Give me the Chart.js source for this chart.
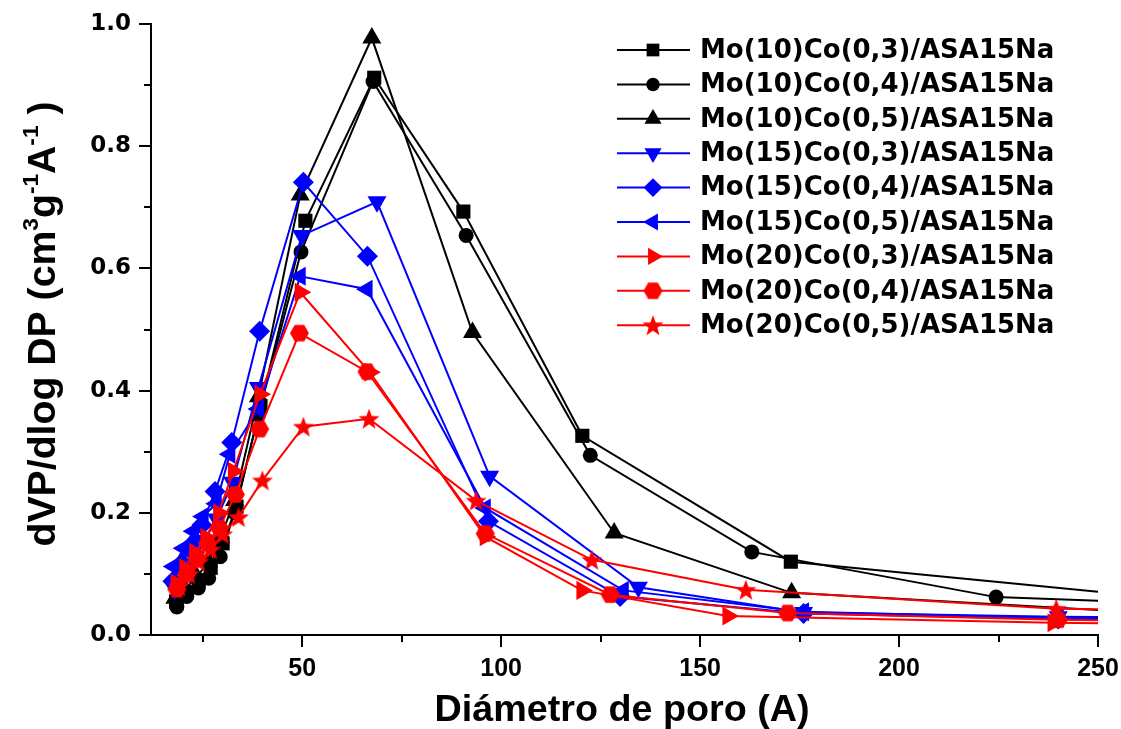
<!DOCTYPE html>
<html>
<head>
<meta charset="utf-8">
<script src="https://cdn.jsdelivr.net/npm/chart.js@4/dist/chart.umd.min.js"></script>
<style>
  html, body { margin: 0; padding: 0; background: #ffffff; }
  #wrap { width: 1121px; height: 729px; }
</style>
</head>
<body>
<div id="wrap"><canvas id="chart" width="1121" height="729"></canvas></div>
<script>
// Pore size distributions (BJH): pore diameter in A, dV/dlogD in cm3 g-1 A-1
const seriesNames = [
  'Mo(10)Co(0,3)/ASA15Na', 'Mo(10)Co(0,4)/ASA15Na', 'Mo(10)Co(0,5)/ASA15Na',
  'Mo(15)Co(0,3)/ASA15Na', 'Mo(15)Co(0,4)/ASA15Na', 'Mo(15)Co(0,5)/ASA15Na',
  'Mo(20)Co(0,3)/ASA15Na', 'Mo(20)Co(0,4)/ASA15Na', 'Mo(20)Co(0,5)/ASA15Na'
];

const dMo10Co03 = [18.3, 21, 24, 27, 30, 33.5, 39.5, 50.8, 68.1, 90.5, 120.4, 172.8, 330];
const vMo10Co03 = [0.055, 0.07, 0.09, 0.11, 0.15, 0.21, 0.375, 0.678, 0.912, 0.693, 0.326, 0.12, 0.02];

const dMo10Co04 = [18.5, 21, 23.9, 26.5, 29.4, 33, 39, 49.7, 67.8, 91.2, 122.4, 163, 224.4, 330];
const vMo10Co04 = [0.046, 0.063, 0.077, 0.093, 0.128, 0.2, 0.36, 0.627, 0.906, 0.654, 0.294, 0.136, 0.062, 0.037];

const dMo10Co05 = [18, 20.5, 23.5, 26.5, 29.5, 33, 39, 49.5, 67.5, 92.8, 128.4, 173, 330];
const vMo10Co05 = [0.06, 0.075, 0.095, 0.12, 0.16, 0.22, 0.39, 0.72, 0.977, 0.495, 0.167, 0.069, 0.012];

const dMo15Co03 = [18, 20.5, 23, 25.5, 28.5, 32.5, 39, 49.9, 68.8, 97.1, 134.5, 176, 240, 330];
const vMo15Co03 = [0.075, 0.1, 0.125, 0.155, 0.19, 0.25, 0.405, 0.654, 0.709, 0.26, 0.078, 0.037, 0.03, 0.024];

const dMo15Co04 = [17.5, 19.8, 22.3, 24.8, 28.1, 32.3, 39.3, 50.3, 66.4, 96.8, 129.9, 176, 240, 330];
const vMo15Co04 = [0.088, 0.118, 0.148, 0.18, 0.235, 0.315, 0.497, 0.741, 0.62, 0.186, 0.063, 0.035, 0.026, 0.02];

const dMo15Co05 = [17.7, 20.2, 22.7, 25.1, 28.4, 31.8, 39, 49.5, 66.3, 96, 130.7, 176, 240, 330];
const vMo15Co05 = [0.112, 0.142, 0.17, 0.194, 0.215, 0.296, 0.37, 0.587, 0.566, 0.208, 0.073, 0.038, 0.028, 0.022];

const dMo20Co03 = [18.3, 20.5, 23, 25.8, 29, 32.7, 39.4, 49.5, 67, 96, 120.3, 157, 238.7, 330];
const vMo20Co03 = [0.085, 0.11, 0.135, 0.16, 0.2, 0.268, 0.394, 0.561, 0.43, 0.161, 0.073, 0.031, 0.02, 0.015];

const dMo20Co04 = [18.5, 21, 23.5, 26.2, 29.2, 33.2, 39.3, 49.3, 66.3, 96, 127.4, 172, 240, 330];
const vMo20Co04 = [0.075, 0.1, 0.125, 0.15, 0.175, 0.23, 0.337, 0.494, 0.431, 0.166, 0.066, 0.036, 0.025, 0.019];

const dMo20Co05 = [19, 21.5, 24, 27, 30, 34, 40, 50.3, 66.8, 93.7, 122.8, 161.5, 239.5, 330];
const vMo20Co05 = [0.08, 0.1, 0.12, 0.14, 0.165, 0.193, 0.253, 0.341, 0.354, 0.22, 0.123, 0.074, 0.043, 0.035];

const xMajorTicks = [50, 100, 150, 200, 250];
const xMinorTicks = [25, 75, 125, 175, 225];
const yMajorTicks = [0, 0.2, 0.4, 0.6, 0.8, 1.0];
const yMinorTicks = [0.1, 0.3, 0.5, 0.7, 0.9];

const BLACK = '#000000', BLUE = '#0000ff', RED = '#ff0000';

// filled hexagon and five-point star marker images
function hexagonMarker(color, r) {
  const c = document.createElement('canvas');
  c.width = c.height = Math.ceil(r * 2 + 2);
  const g = c.getContext('2d');
  const cx = c.width / 2, cy = c.height / 2;
  g.beginPath();
  for (let k = 0; k < 6; k++) {
    const a = k * Math.PI / 3;
    g.lineTo(cx + r * Math.cos(a), cy + r * Math.sin(a));
  }
  g.closePath();
  g.fillStyle = color;
  g.fill();
  return c;
}
function starMarker(color, r) {
  const c = document.createElement('canvas');
  c.width = c.height = Math.ceil(r * 2 + 2);
  const g = c.getContext('2d');
  const cx = c.width / 2, cy = c.height / 2 + 1;
  g.beginPath();
  for (let k = 0; k < 10; k++) {
    const a = -Math.PI / 2 + k * Math.PI / 5;
    const rr = k % 2 === 0 ? r : r * 0.42;
    g.lineTo(cx + rr * Math.cos(a), cy + rr * Math.sin(a));
  }
  g.closePath();
  g.fillStyle = color;
  g.fill();
  return c;
}

const markerStyles = [
  { pointStyle: 'rect', radius: 10, rotation: 0 },
  { pointStyle: 'circle', radius: 7.5, rotation: 0 },
  { pointStyle: 'triangle', radius: 11, rotation: 0 },
  { pointStyle: 'triangle', radius: 11, rotation: 180 },
  { pointStyle: 'rectRot', radius: 10.5, rotation: 0 },
  { pointStyle: 'triangle', radius: 11, rotation: 270 },
  { pointStyle: 'triangle', radius: 11, rotation: 90 },
  { pointStyle: hexagonMarker(RED, 9.5), radius: 9.5, rotation: 0 },
  { pointStyle: starMarker(RED, 11), radius: 11, rotation: 0 }
];
const colors = [BLACK, BLACK, BLACK, BLUE, BLUE, BLUE, RED, RED, RED];
const diameters = [dMo10Co03, dMo10Co04, dMo10Co05, dMo15Co03, dMo15Co04, dMo15Co05, dMo20Co03, dMo20Co04, dMo20Co05];
const volumes = [vMo10Co03, vMo10Co04, vMo10Co05, vMo15Co03, vMo15Co04, vMo15Co05, vMo20Co03, vMo20Co04, vMo20Co05];

const datasets = seriesNames.map((name, i) => ({
  label: name,
  data: diameters[i].map((d, k) => ({ x: d, y: volumes[i][k] })),
  borderColor: colors[i],
  backgroundColor: colors[i],
  borderWidth: 2,
  pointStyle: markerStyles[i].pointStyle,
  pointRadius: markerStyles[i].radius,
  pointRotation: markerStyles[i].rotation,
  pointBorderWidth: 0,
  pointBackgroundColor: colors[i],
  pointBorderColor: colors[i],
  tension: 0,
  order: seriesNames.length - i
}));

// draw a text run squeezed or stretched to a given width
function fillFitted(ctx, text, x, y, width) {
  const w = ctx.measureText(text).width;
  ctx.save();
  ctx.translate(x, y);
  ctx.scale(width / w, 1);
  ctx.fillText(text, 0, 0);
  ctx.restore();
}

// tick marks, axis titles and the in-plot legend
const decorations = {
  id: 'decorations',
  afterDraw(chart) {
    const ctx = chart.ctx;
    const xs = chart.scales.x, ys = chart.scales.y;
    const area = chart.chartArea;
    ctx.save();
    ctx.strokeStyle = BLACK;
    ctx.lineWidth = 2;
    ctx.beginPath();
    xMajorTicks.forEach(v => { const p = Math.round(xs.getPixelForValue(v)); ctx.moveTo(p, area.bottom); ctx.lineTo(p, area.bottom + 12); });
    xMinorTicks.forEach(v => { const p = Math.round(xs.getPixelForValue(v)); ctx.moveTo(p, area.bottom); ctx.lineTo(p, area.bottom + 7); });
    yMajorTicks.forEach(v => { const p = Math.round(ys.getPixelForValue(v)); ctx.moveTo(area.left, p); ctx.lineTo(area.left - 12, p); });
    yMinorTicks.forEach(v => { const p = Math.round(ys.getPixelForValue(v)); ctx.moveTo(area.left, p); ctx.lineTo(area.left - 7, p); });
    ctx.stroke();

    // x axis title
    ctx.fillStyle = BLACK;
    ctx.font = 'bold 37px "Liberation Sans", Arial, sans-serif';
    ctx.textAlign = 'center';
    ctx.textBaseline = 'middle';
    fillFitted(ctx, 'Diámetro de poro (A)', 622, 711, 375);

    // y axis title with superscripts, rotated
    const pieces = [
      ['dVP/dlog DP (cm', false], ['3', true], ['g', false], ['-1', true],
      ['A', false], ['-1', true], [' )', false]
    ];
    const mainFont = 'bold 38px "Liberation Sans", Arial, sans-serif';
    const supFont = 'bold 22px "Liberation Sans", Arial, sans-serif';
    let total = 0;
    const widths = pieces.map(([t, sup]) => { ctx.font = sup ? supFont : mainFont; const w = ctx.measureText(t).width; total += w; return w; });
    const targetLen = 445;
    const sx = targetLen / total;
    ctx.translate(42, 324);
    ctx.rotate(-Math.PI / 2);
    ctx.scale(sx, 1);
    ctx.textAlign = 'left';
    ctx.textBaseline = 'alphabetic';
    let pos = -total / 2;
    pieces.forEach(([t, sup], k) => {
      ctx.font = sup ? supFont : mainFont;
      ctx.fillText(t, pos, sup ? -4 : 13);
      pos += widths[k];
    });
    ctx.restore();

    // legend
    ctx.save();
    const lx0 = 617, lx1 = 690, mx = 653, tx = 700, rowY0 = 50, rowStep = 34.4;
    ctx.font = 'bold 26px "DejaVu Sans", sans-serif';
    ctx.textAlign = 'left';
    ctx.textBaseline = 'middle';
    seriesNames.forEach((name, i) => {
      const y = rowY0 + i * rowStep;
      ctx.strokeStyle = colors[i];
      ctx.lineWidth = 2;
      ctx.beginPath();
      ctx.moveTo(lx0, y);
      ctx.lineTo(lx1, y);
      ctx.stroke();
      ctx.fillStyle = colors[i];
      ctx.strokeStyle = colors[i];
      ctx.lineWidth = 0;
      Chart.helpers.drawPoint(ctx, {
        pointStyle: markerStyles[i].pointStyle,
        radius: markerStyles[i].radius * 0.9,
        rotation: markerStyles[i].rotation,
        borderWidth: 0
      }, mx, y);
      ctx.fillStyle = BLACK;
      ctx.fillText(name, tx, y + 1);
    });
    ctx.restore();
  }
};

new Chart(document.getElementById('chart'), {
  type: 'line',
  data: { datasets },
  options: {
    responsive: false,
    animation: false,
    devicePixelRatio: 1,
    layout: { padding: { top: 24, right: 23, left: 0, bottom: 0 } },
    plugins: { legend: { display: false }, tooltip: { enabled: false } },
    scales: {
      x: {
        type: 'linear',
        min: 12,
        max: 250,
        afterBuildTicks(scale) { scale.ticks = xMajorTicks.map(v => ({ value: v })); },
        afterFit(scale) { scale.height = 94; scale.paddingLeft = 0; scale.paddingRight = 0; },
        grid: { display: false, drawTicks: false },
        border: { display: true, color: BLACK, width: 2 },
        ticks: {
          color: BLACK,
          padding: 19,
          maxRotation: 0,
          font: { family: '"Liberation Sans", Arial, sans-serif', size: 25, weight: 'bold' }
        }
      },
      y: {
        type: 'linear',
        min: 0,
        max: 1,
        afterBuildTicks(scale) { scale.ticks = yMajorTicks.map(v => ({ value: v })); },
        afterFit(scale) { scale.width = 151; scale.paddingTop = 0; scale.paddingBottom = 0; },
        grid: { display: false, drawTicks: false },
        border: { display: true, color: BLACK, width: 2 },
        ticks: {
          color: BLACK,
          padding: 20,
          font: { family: '"DejaVu Sans", sans-serif', size: 23, weight: 'bold' },
          callback: v => v.toFixed(1)
        }
      }
    }
  },
  plugins: [decorations]
});
</script>
</body>
</html>
